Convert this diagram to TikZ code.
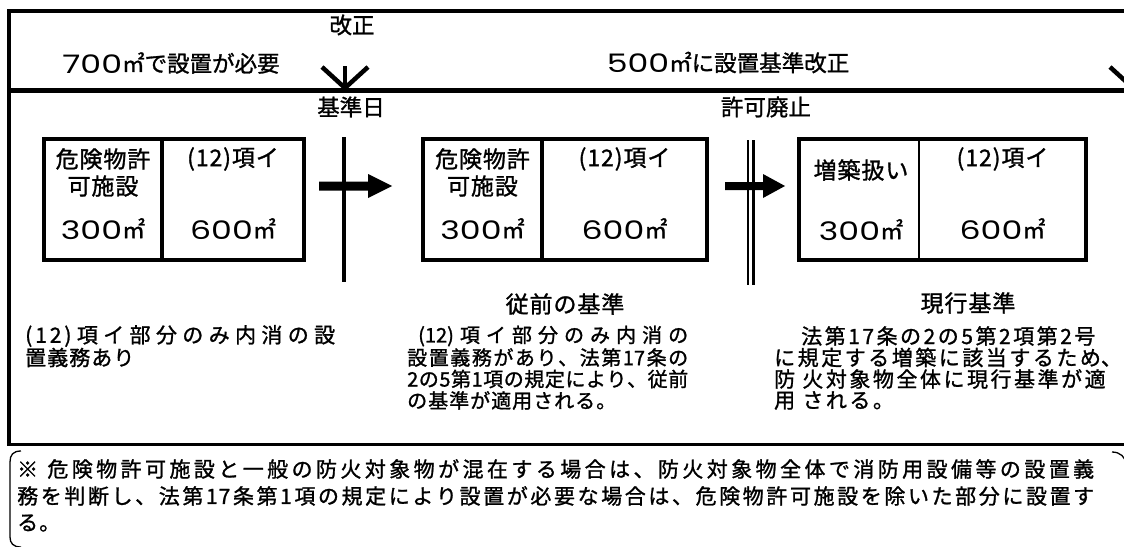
\documentclass[tikz,border=0pt]{standalone}
\usepackage{graphicx}
\usepackage{fontspec}
\setmainfont{Noto Sans CJK JP}
\newfontfamily\jpA{Noto Sans CJK JP}[FakeBold=1.2]
\newfontfamily\jpBox{Noto Sans CJK JP}[LetterSpace=4,FakeBold=1.2]
\newfontfamily\jpF{Noto Sans CJK JP}[LetterSpace=5,FakeBold=1.2]
\newfontfamily\jpC{Noto Sans CJK JP}[LetterSpace=5,FakeBold=1.2]
\newfontfamily\jpD{Noto Sans CJK JP}[LetterSpace=12,FakeBold=1.2]
\newfontfamily\jpL{Noto Sans CJK JP}[LetterSpace=14,FakeBold=1.2]
\newfontfamily\popf{Poppins}
\makeatletter
\def\jsp@end{\jsp@end}
\def\jsp@endm{\jsp@end}
\def\jspread#1{\jsp@a#1\jsp@end}
\def\jsp@a#1{#1\jsp@b}
\def\jsp@b#1{\def\jsp@tmp{#1}\ifx\jsp@tmp\jsp@endm\else\hfil#1\expandafter\jsp@b\fi}
\makeatother
\newcommand\jline[2]{\hbox to #1{\jspread{#2}}}
\newcommand\bigdig[1]{\raisebox{-1.5pt}{\scalebox{1.3}[1]{\popf\fontsize{25.5}{26}\selectfont #1}}}
\newcommand\shortcomma{\makebox[0.45em][l]{、}}
\newcommand\fsb{\fontsize{21}{23}\selectfont}
\newcommand\fsm{\fontsize{20}{22}\selectfont}
\newcommand\fst{\fontsize{22.5}{24}\selectfont}
\newcommand\fsx{\fontsize{23}{25}\selectfont}
\tikzset{
  frameline/.style={line width=3.3pt},
  midline/.style={line width=5pt},
  boxline/.style={line width=4.5pt},
  thinsep/.style={line width=2.7pt},
  vee/.style={line width=4.5pt},
  bracket/.style={line width=1.3pt},
  toplbl/.style={inner sep=0pt, font=\jpA\fst},
  boxtxt/.style={inner sep=0pt, font=\jpBox\fsx},
  body/.style={inner sep=0pt, anchor=west},
}
\begin{document}
\begin{tikzpicture}[x=1pt,y=-1pt]
\useasboundingbox (0,0) rectangle (1124,546);
\fill[white] (0,0) rectangle (1124,546);
\clip (0,0) rectangle (1124,546);
% frame
\draw[frameline] (9,11) -- (1130,11);
\draw[frameline] (9,9.4) -- (9,446);
\draw[midline] (9,90) -- (1130,90);
\draw[frameline] (9,444.5) -- (1130,444.5);
% down arrows
\draw[vee] (322,67) -- (345,88) -- (368,67);
\draw[vee] (345,66) -- (345,88);
\draw[vee] (1110,67) -- (1133,88) -- (1156,67);
% top labels
\node[toplbl] (kaisei) at (352,25) {改正};
\node[toplbl] (t700) at (171,63) {\bigdig{700}㎡で設置が必要};
\node[toplbl] (t500) at (728,62.5) {\bigdig{500}㎡に設置基準改正};
\node[toplbl] (kijunbi) at (351,107) {基準日};
\node[toplbl] (haishi) at (766,107) {許可廃止};
% box 1
\draw[boxline] (44,139) rectangle (304,260);
\draw[boxline] (162,139) -- (162,260);
\node[boxtxt] (a1) at (103,159) {危険物許};
\node[boxtxt] (a2) at (103,186) {可施設};
\node[boxtxt] (a3) at (103,229) {\bigdig{300}㎡};
\node[boxtxt] (a4) at (233,159) {(12)項イ};
\node[boxtxt] (a5) at (233,229) {\bigdig{600}㎡};
% separator 1 and arrow 1
\draw[boxline] (344,137) -- (344,282);
\fill (319,181.5) -- (368,181.5) -- (368,174) -- (392,186) -- (368,198) -- (368,190.5) -- (319,190.5) -- cycle;
% box 2
\draw[boxline] (423,139) rectangle (707,260);
\draw[boxline] (542,139) -- (542,260);
\node[boxtxt] (b1) at (482.5,159) {危険物許};
\node[boxtxt] (b2) at (482.5,186) {可施設};
\node[boxtxt] (b3) at (482.5,229) {\bigdig{300}㎡};
\node[boxtxt] (b4) at (624.5,159) {(12)項イ};
\node[boxtxt] (b5) at (624.5,229) {\bigdig{600}㎡};
% double separator and arrow 2
\draw[thinsep] (748,140) -- (748,285);
\draw[thinsep] (753.5,140) -- (753.5,285);
\fill (725,182) -- (763,182) -- (763,174) -- (785,186) -- (763,198) -- (763,190) -- (725,190) -- cycle;
% box 3
\draw[boxline] (799,139) rectangle (1086,260);
\draw[thinsep] (919,139) -- (919,260);
\node[boxtxt] (c1) at (861,170) {増築扱い};
\node[boxtxt] (c3) at (861,230) {\bigdig{300}㎡};
\node[boxtxt] (c4) at (1002.5,159) {(12)項イ};
\node[boxtxt] (c5) at (1002.5,229) {\bigdig{600}㎡};
% captions
\node[boxtxt] (juzen) at (565,304) {従前の基準};
\node[boxtxt] (genko) at (968,303) {現行基準};
% left text
\node[body, font=\jpL\fsb] (L1) at (25,336) {\jline{310pt}{{(12)}項イ部分のみ内消の設}};
\node[body, font=\jpC\fsb] (L2) at (25,357.5) {置義務あり};
% middle text
\node[body, font=\jpA\fsm] (M1) at (418,336) {\jline{270pt}{{(12)}項イ部分のみ内消の}};
\node[body, font=\jpA\fsm] (M2) at (407,357.5) {\jline{281pt}{設置義務があり、法第{17}条の}};
\node[body, font=\jpA\fsm] (M3) at (407,379) {\jline{281pt}{2の5第1項の規定により、従前}};
\node[body, font=\jpC\fsm] (M4) at (407,400.5) {の基準が適用される。};
% right text
\node[body, font=\jpD\fsb] (R1) at (801,336) {法第17条の2の5第2項第2号};
\node[body, font=\jpD\fsb] (R2) at (774,357.5) {に規定する増築に該当するため\shortcomma};
\node[body, font=\jpD\fsb] (R3) at (774,379) {防 火対象物全体に現行基準が適};
\node[body, font=\jpD\fsb] (R4) at (774,400.5) {用 される。};
% footnote
\draw[bracket] (21,451) .. controls (13,451) and (10,455) .. (10,462) -- (10,537) .. controls (10,543) and (13,547) .. (21,547);
\draw[bracket] (1112,452) .. controls (1120,452) and (1126,457) .. (1126,465) -- (1126,540);
\node[body, font=\jpF\fsb] (F1) at (17,469) {\jline{1077pt}{{※\ }危険物許可施設と一般の防火対象物が混在する場合は、防火対象物全体で消防用設備等の設置義}};
\node[body, font=\jpF\fsb] (F2) at (17,496) {\jline{1077pt}{務を判断し、法第{17}条第1項の規定により設置が必要な場合は、危険物許可施設を除いた部分に設置す}};
\node[body, font=\jpF\fsb] (F3) at (17,523) {る。};
\end{tikzpicture}
\end{document}
